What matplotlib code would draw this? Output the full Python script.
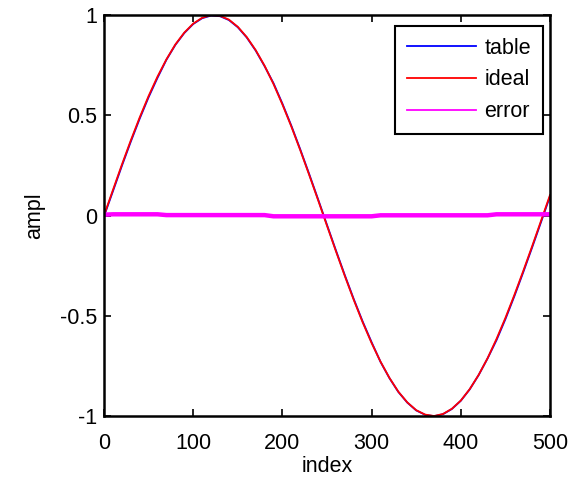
import matplotlib
matplotlib.use("Agg")
import matplotlib.pyplot as plt

plt.rcParams['font.family'] = ['Liberation Sans', 'DejaVu Sans']

# sample index (read every 10 points)
index = list(range(0, 501, 10))

# ideal sine values
ideal = [0.000, 0.127, 0.253, 0.374, 0.489, 0.596, 0.693, 0.779, 0.853, 0.912,
         0.957, 0.986, 0.999, 0.996, 0.977, 0.941, 0.890, 0.825, 0.747, 0.656,
         0.554, 0.444, 0.326, 0.203, 0.077, -0.051, -0.178, -0.302, -0.421, -0.533,
         -0.636, -0.729, -0.810, -0.879, -0.932, -0.971, -0.993, -1.000, -0.990, -0.964,
         -0.923, -0.866, -0.795, -0.712, -0.616, -0.511, -0.397, -0.277, -0.153, -0.026,
         0.102]

# error (ideal - table)
error = [0.004, 0.006, 0.006, 0.006, 0.006, 0.006, 0.006, 0.002, 0.002, 0.002,
         0.002, 0.002, 0.002, 0.002, 0.002, 0.002, 0.002, 0.002, 0.002, -0.004,
         -0.004, -0.004, -0.004, -0.004, -0.004, -0.004, -0.004, -0.004, -0.004, -0.004,
         -0.004, 0.001, 0.001, 0.001, 0.001, 0.001, 0.001, 0.001, 0.001, 0.001,
         0.001, 0.001, 0.001, 0.001, 0.006, 0.006, 0.006, 0.006, 0.006, 0.006,
         0.006]

table = [i - e for i, e in zip(ideal, error)]

xticks = [0, 100, 200, 300, 400, 500]
yticks = [-1, -0.5, 0, 0.5, 1]
yticklabels = ['-1', '-0.5', '0', '0.5', '1']

FS = 15.5

fig = plt.figure(figsize=(5.70, 4.79), dpi=100)
ax = fig.add_axes([104/570, 1-416/479, 446/570, 401/479])

ax.plot(index, table, color=(0, 0, 1), lw=1.3, label='table')
ax.plot(index, ideal, color=(1, 0, 0), lw=1.3, label='ideal')
ax.plot(index, error, color=(1, 0, 1), lw=3.2, label='error')

ax.set_xlim(0, 500)
ax.set_ylim(-1, 1)
ax.set_xticks(xticks)
ax.set_xticklabels([str(t) for t in xticks])
ax.set_yticks(yticks)
ax.set_yticklabels(yticklabels)
ax.tick_params(direction='in', top=True, right=True, length=5, width=1.2,
               labelsize=FS)
ax.tick_params(axis='x', pad=12)
ax.tick_params(axis='y', pad=5)
for s in ax.spines.values():
    s.set_linewidth(1.8)
ax.set_xlabel('index', fontsize=FS, labelpad=1.5)
ax.set_ylabel('ampl', fontsize=FS, labelpad=10.5)

leg = ax.legend(loc='upper right', bbox_to_anchor=(0.984, 0.973), borderaxespad=0,
                fontsize=FS, handlelength=3.2, labelspacing=0.5, fancybox=False,
                framealpha=1, edgecolor='black', borderpad=0.55, handletextpad=0.4)
leg.get_frame().set_linewidth(1.5)
for h in leg.get_lines():
    h.set_linewidth(1.3)

fig.savefig('out.png', dpi=100)
